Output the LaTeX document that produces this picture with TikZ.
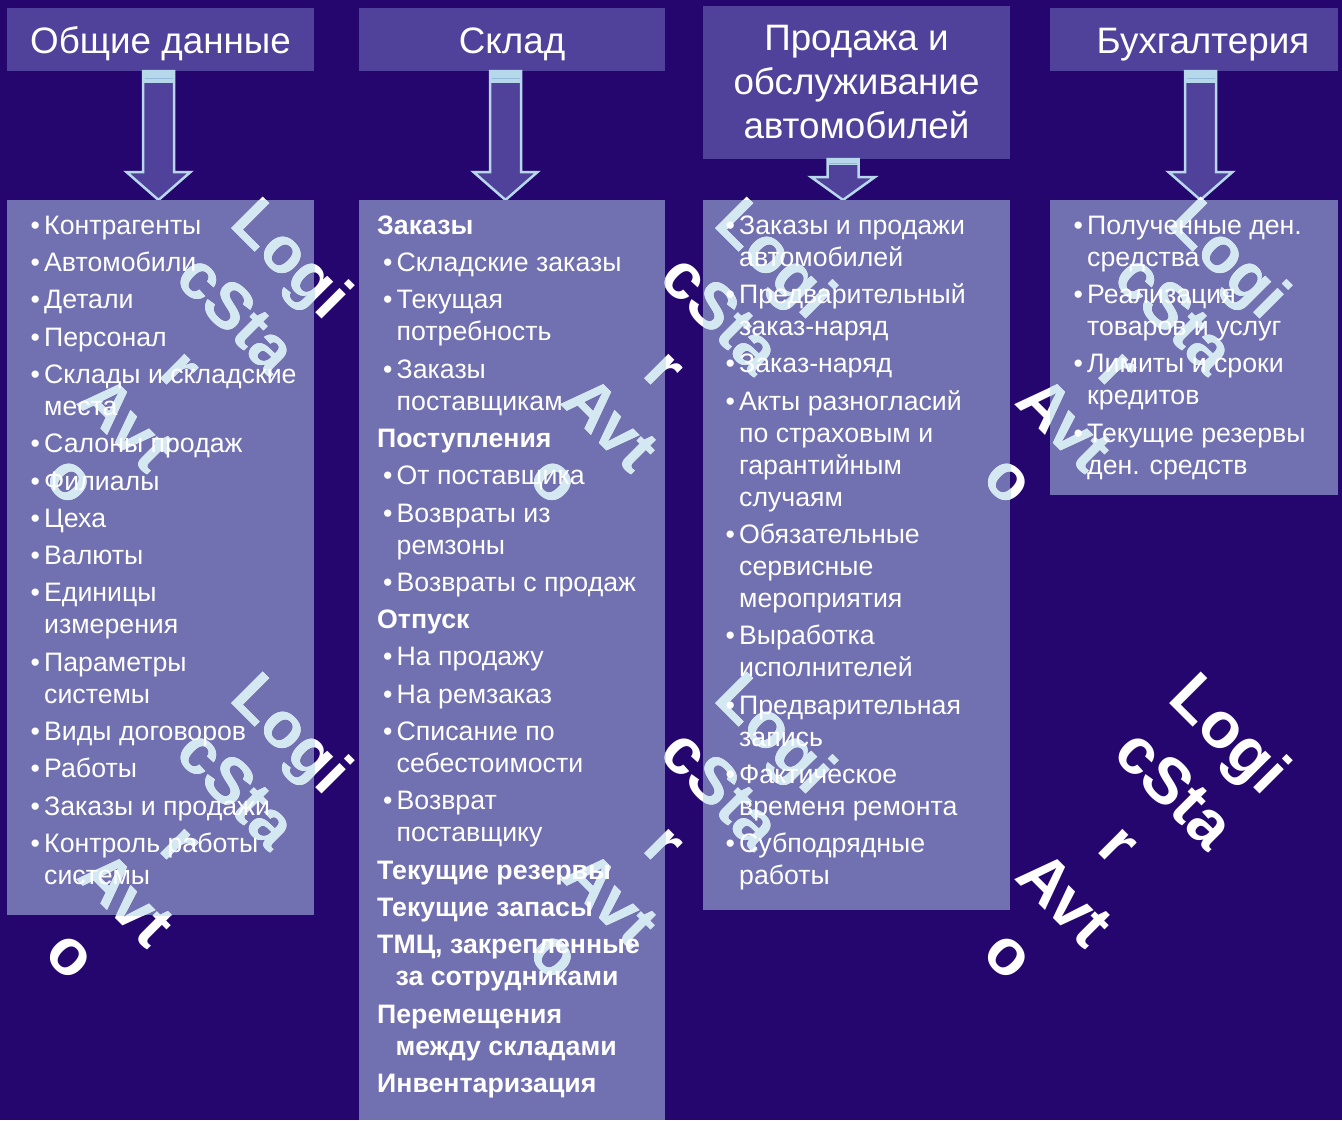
\documentclass[tikz,border=0pt]{standalone}
\usepackage{fontspec}
\setmainfont{Liberation Sans}
\definecolor{bgc}{HTML}{25056E}
\definecolor{hdrc}{HTML}{50419A}
\definecolor{boxc}{HTML}{7170B0}
\definecolor{arrc}{HTML}{B7D7EB}
\definecolor{bandc}{HTML}{93BBD9}
\definecolor{wmc}{HTML}{D4E8F2}
\newcommand\bul{\makebox[13.5pt][l]{•}}
\newcommand\hng{\hspace*{13.5pt}}
\newcommand\ig{5.3pt}
\newcommand\sub{\hspace*{6pt}\bul}
\newcommand\subh{\hspace*{19.5pt}}
\newcommand\blockarrow[5]{%
  \draw[arrfill] ({#1-15.5},#2) -- ({#1+15.5},#2) -- ({#1+15.5},#3) -- ({#1+32},#3) -- (#1,#4) -- ({#1-32},#3) -- ({#1-15.5},#3) -- cycle;
  \fill[arrc] ({#1-15.5},#2) rectangle ({#1+15.5},{#2+#5});
  \draw[bandc, line width=1pt] ({#1-14},{#2+#5/2+1}) -- ({#1+14},{#2+#5/2+1});
}
\newcommand\wmtext{Logi\\cSta\\r\\Avt\\o}
\begin{document}
\begin{tikzpicture}[x=1pt,y=-1pt,
  hdr/.style={fill=hdrc, draw=none, inner sep=0pt, outer sep=0pt, anchor=north west},
  cbox/.style={fill=boxc, draw=none, inner sep=0pt, outer sep=0pt, anchor=north west},
  htext/.style={text=white, font=\fontsize{36.8}{44}\selectfont, inner sep=0pt, align=center},
  ctext/.style={text=white, font=\fontsize{26.7}{32}\selectfont, inner sep=0pt, align=left, anchor=north west},
  wm/.style={font=\fontsize{65}{78}\selectfont\bfseries, inner sep=0pt, align=center, rotate=-45},
  arrfill/.style={fill=hdrc, draw=arrc, line width=2.5pt, line join=miter}
]
\useasboundingbox (0,0) rectangle (1342,1120);
\fill[bgc] (0,0) rectangle (1342,1120);

% header boxes
\node[hdr, minimum width=307pt, minimum height=63pt] (h1) at (7,8) {};
\node[hdr, minimum width=306pt, minimum height=63pt] (h2) at (359,8) {};
\node[hdr, minimum width=307pt, minimum height=153pt] (h3) at (703,6) {};
\node[hdr, minimum width=288pt, minimum height=63pt] (h4) at (1050,8) {};

% block arrows
\blockarrow{158.5}{71}{172}{200}{12}
\blockarrow{505.5}{71}{172}{200}{12}
\blockarrow{843}{159}{177}{200}{6}
\blockarrow{1200.5}{71}{172}{200}{12}

% content boxes
\node[cbox, minimum width=307pt, minimum height=715pt] (c1) at (7,200) {};
\node[cbox, minimum width=306pt, minimum height=920pt] (c2) at (359,200) {};
\node[cbox, minimum width=307pt, minimum height=710pt] (c3) at (703,200) {};
\node[cbox, minimum width=288pt, minimum height=295pt] (c4) at (1050,200) {};

% watermark (white on background)
\node[wm, text=white] (wmw1) at (183,368) {\wmtext};
\node[wm, text=white] (wmw2) at (667,368) {\wmtext};
\node[wm, text=white] (wmw3) at (1121,368) {\wmtext};
\node[wm, text=white] (wmw4) at (183,843) {\wmtext};
\node[wm, text=white] (wmw5) at (667,843) {\wmtext};
\node[wm, text=white] (wmw6) at (1121,843) {\wmtext};
% watermark (light blue over boxes)
\begin{scope}
\clip (7,200) rectangle (314,915) (359,200) rectangle (665,1120) (703,200) rectangle (1010,910) (1050,200) rectangle (1338,495);
\node[wm, text=wmc] (wmb1) at (183,368) {\wmtext};
\node[wm, text=wmc] (wmb2) at (667,368) {\wmtext};
\node[wm, text=wmc] (wmb3) at (1121,368) {\wmtext};
\node[wm, text=wmc] (wmb4) at (183,843) {\wmtext};
\node[wm, text=wmc] (wmb5) at (667,843) {\wmtext};
\node[wm, text=wmc] (wmb6) at (1121,843) {\wmtext};
\end{scope}

% header texts
\node[htext, anchor=base] (h1t) at (160.5,53) {Общие данные};
\node[htext, anchor=base] (h2t) at (512,53) {Склад};
\node[htext] (h3t) at (856.5,82) {Продажа и\\обслуживание\\автомобилей};
\node[htext, anchor=base] (h4t) at (1203,53) {Бухгалтерия};

% column texts
\node[ctext] (t1) at (30.5,211.6) {%
\strut\bul Контрагенты\\[\ig]
\bul Автомобили\\[\ig]
\bul Детали\\[\ig]
\bul Персонал\\[\ig]
\bul Склады и складские\\
\hng места\\[\ig]
\bul Салоны продаж\\[\ig]
\bul Филиалы\\[\ig]
\bul Цеха\\[\ig]
\bul Валюты\\[\ig]
\bul Единицы\\
\hng измерения\\[\ig]
\bul Параметры\\
\hng системы\\[\ig]
\bul Виды договоров\\[\ig]
\bul Работы\\[\ig]
\bul Заказы и продажи\\[\ig]
\bul Контроль работы\\
\hng системы};

\node[ctext] (t2) at (377,211.6) {%
\strut\textbf{Заказы}\\[\ig]
\sub Складские заказы\\[\ig]
\sub Текущая\\
\subh потребность\\[\ig]
\sub Заказы\\
\subh поставщикам\\[\ig]
\textbf{Поступления}\\[\ig]
\sub От поставщика\\[\ig]
\sub Возвраты из\\
\subh ремзоны\\[\ig]
\sub Возвраты с продаж\\[\ig]
\textbf{Отпуск}\\[\ig]
\sub На продажу\\[\ig]
\sub На ремзаказ\\[\ig]
\sub Списание по\\
\subh себестоимости\\[\ig]
\sub Возврат\\
\subh поставщику\\[\ig]
\textbf{Текущие резервы}\\[\ig]
\textbf{Текущие запасы}\\[\ig]
\textbf{ТМЦ, закрепленные}\\
\hspace*{18.5pt}\textbf{за сотрудниками}\\[\ig]
\textbf{Перемещения}\\
\hspace*{18.5pt}\textbf{между складами}\\[\ig]
\textbf{Инвентаризация}};

\node[ctext] (t3) at (725.5,211.6) {%
\strut\bul Заказы и продажи\\
\hng автомобилей\\[\ig]
\bul Предварительный\\
\hng заказ-наряд\\[\ig]
\bul Заказ-наряд\\[\ig]
\bul Акты разногласий\\
\hng по страховым и\\
\hng гарантийным\\
\hng случаям\\[\ig]
\bul Обязательные\\
\hng сервисные\\
\hng мероприятия\\[\ig]
\bul Выработка\\
\hng исполнителей\\[\ig]
\bul Предварительная\\
\hng запись\\[\ig]
\bul Фактическое\\
\hng временя ремонта\\[\ig]
\bul Субподрядные\\
\hng работы};

\node[ctext] (t4) at (1073.5,211.6) {%
\strut\bul Полученные ден.\\
\hng средства\\[\ig]
\bul Реализация\\
\hng товаров и услуг\\[\ig]
\bul Лимиты и сроки\\
\hng кредитов\\[\ig]
\bul Текущие резервы\\
\hng ден. средств};
\end{tikzpicture}
\end{document}
